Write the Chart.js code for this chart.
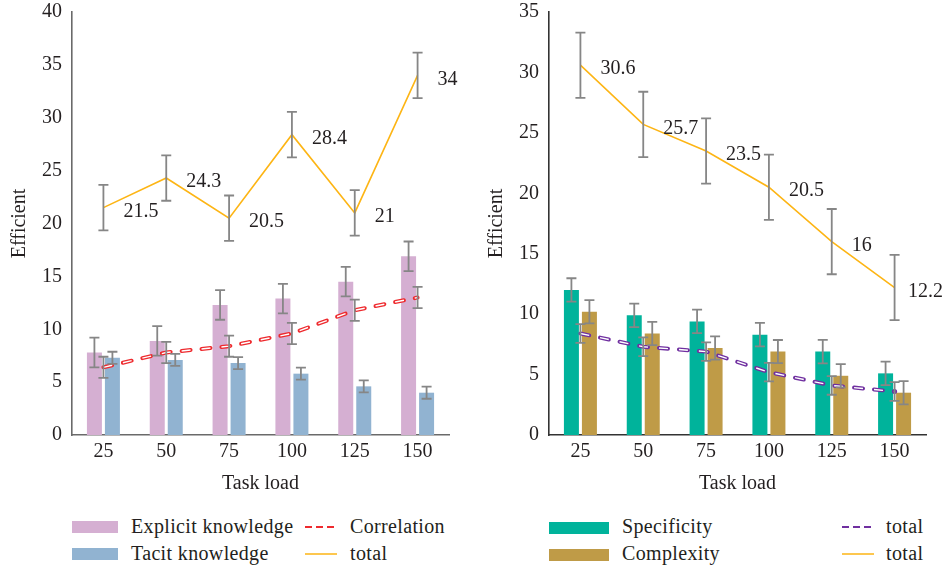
<!DOCTYPE html>
<html>
<head>
<meta charset="utf-8">
<script src="https://cdn.jsdelivr.net/npm/chart.js@4.4.1/dist/chart.umd.min.js"></script>
<style>
  html, body { margin: 0; padding: 0; background: #fff; }
  body { width: 945px; height: 568px; position: relative; overflow: hidden; font-family: "Liberation Serif", "DejaVu Serif", serif; color: #231f20; }
  .cv { position: absolute; top: 0; }
  .lg { position: absolute; font-size: 20px; letter-spacing: 0.35px; line-height: 22px; white-space: nowrap; }
  .sw { position: absolute; height: 12px; }
  .ln { position: absolute; }
</style>
</head>
<body>
<div class="cv" style="left:0;width:470px;height:500px;"><canvas id="c1"></canvas></div>
<div class="cv" style="left:477px;width:468px;height:500px;"><canvas id="c2"></canvas></div>

<!-- left legend -->
<div class="sw" style="left:72px;top:521px;width:46px;background:#D5AFD2;"></div>
<div class="lg" style="left:131px;top:515px;">Explicit knowledge</div>
<div class="sw" style="left:72px;top:548px;width:46px;background:#91B3D1;"></div>
<div class="lg" style="left:131px;top:542px;">Tacit knowledge</div>
<svg class="ln" style="left:304px;top:522px;" width="34" height="10"><line x1="1" y1="5" x2="33" y2="5" stroke="#EE2A2E" stroke-width="2" stroke-dasharray="7,4"/></svg>
<div class="lg" style="left:350px;top:515px;">Correlation</div>
<svg class="ln" style="left:304px;top:549px;" width="34" height="10"><line x1="1" y1="5" x2="33" y2="5" stroke="#FDB515" stroke-width="1.5"/></svg>
<div class="lg" style="left:350px;top:542px;">total</div>

<!-- right legend -->
<div class="sw" style="left:549px;top:522px;width:60px;background:#00B39B;"></div>
<div class="lg" style="left:622px;top:515px;">Specificity</div>
<div class="sw" style="left:549px;top:549px;width:60px;background:#BF9B47;"></div>
<div class="lg" style="left:622px;top:542px;">Complexity</div>
<svg class="ln" style="left:841px;top:522px;" width="34" height="10"><line x1="1" y1="5" x2="33" y2="5" stroke="#7030A0" stroke-width="2" stroke-dasharray="7,4"/></svg>
<div class="lg" style="left:886px;top:515px;">total</div>
<svg class="ln" style="left:841px;top:549px;" width="34" height="10"><line x1="1" y1="5" x2="33" y2="5" stroke="#FDB515" stroke-width="1.5"/></svg>
<div class="lg" style="left:886px;top:542px;">total</div>

<script>
// ---- data ----
const taskLoad = ['25', '50', '75', '100', '125', '150'];

const explicitKnowledge = [7.8, 8.9, 12.3, 12.9, 14.5, 16.9];
const explicitErr = [1.4, 1.4, 1.4, 1.4, 1.4, 1.4];
const tacitKnowledge = [7.3, 7.1, 6.8, 5.8, 4.6, 4.0];
const tacitErr = [0.57, 0.57, 0.57, 0.57, 0.57, 0.57];
const correlation = [6.4, 7.8, 8.4, 9.6, 11.8, 13.0];
const correlationErr = [1.0, 1.0, 1.0, 1.0, 1.0, 1.0];
const totalLeft = [21.5, 24.3, 20.5, 28.4, 21, 34];
const totalLeftErr = [2.15, 2.15, 2.15, 2.15, 2.15, 2.15];

const specificity = [12.0, 9.9, 9.4, 8.3, 6.9, 5.1];
const specificityErr = [0.97, 0.97, 0.97, 0.97, 0.97, 0.97];
const complexity = [10.2, 8.4, 7.2, 6.9, 4.9, 3.5];
const complexityErr = [0.96, 0.96, 0.96, 0.96, 0.96, 0.96];
const totalDashed = [8.4, 7.3, 6.9, 5.2, 4.1, 3.6];
const totalDashedErr = [0.77, 0.77, 0.77, 0.77, 0.77, 0.77];
const totalRight = [30.6, 25.7, 23.5, 20.5, 16, 12.2];
const totalRightErr = [2.7, 2.7, 2.7, 2.7, 2.7, 2.7];

const leftTicks = [0, 5, 10, 15, 20, 25, 30, 35, 40];
const rightTicks = [0, 5, 10, 15, 20, 25, 30, 35];

// ---- styling ----
const FONT = '"Liberation Serif", "DejaVu Serif", serif';
Chart.defaults.font.family = FONT;
Chart.defaults.font.size = 20;
Chart.defaults.color = '#231f20';

const errorBarPlugin = {
  id: 'errorBars',
  afterDatasetsDraw(chart) {
    const ctx = chart.ctx;
    const y = chart.scales.y;
    ctx.save();
    ctx.strokeStyle = '#868686';
    ctx.lineWidth = 1.8;
    chart.data.datasets.forEach((ds, i) => {
      if (!ds.err) return;
      const meta = chart.getDatasetMeta(i);
      meta.data.forEach((el, j) => {
        const v = ds.data[j], e = ds.err[j];
        const x = el.x;
        const y1 = y.getPixelForValue(v + e), y2 = y.getPixelForValue(v - e);
        const cw = 5;
        ctx.beginPath();
        ctx.moveTo(x, y1); ctx.lineTo(x, y2);
        ctx.moveTo(x - cw, y1); ctx.lineTo(x + cw, y1);
        ctx.moveTo(x - cw, y2); ctx.lineTo(x + cw, y2);
        ctx.stroke();
      });
    });
    // value labels
    chart.data.datasets.forEach((ds, i) => {
      if (!ds.showLabels) return;
      const meta = chart.getDatasetMeta(i);
      ctx.fillStyle = '#231f20';
      ctx.font = '20px ' + FONT;
      ctx.textAlign = 'left';
      ctx.textBaseline = 'middle';
      meta.data.forEach((el, j) => {
        const txt = String(ds.data[j]);
        const w = ctx.measureText(txt).width;
        const lx = Math.min(el.x + 20, chart.width - w - 2);
        ctx.fillText(txt, lx, el.y + 4);
      });
    });
    ctx.restore();
  }
};

function makeChart(id, cfg) {
  const dashW = 4;
  return new Chart(document.getElementById(id), {
    type: 'bar',
    data: {
      labels: taskLoad,
      datasets: [
        { label: cfg.b1Label, data: cfg.b1, err: cfg.b1Err, backgroundColor: cfg.b1Color, order: 4,
          categoryPercentage: 0.573, barPercentage: 0.833 },
        { label: cfg.b2Label, data: cfg.b2, err: cfg.b2Err, backgroundColor: cfg.b2Color, order: 5,
          categoryPercentage: 0.573, barPercentage: 0.833 },
        { type: 'line', label: cfg.dLabel, data: cfg.d, err: cfg.dErr, borderColor: cfg.dColor, borderWidth: dashW,
          borderDash: [9, 11], borderCapStyle: 'round', pointRadius: cfg.endDot ? [0,0,0,0,0,2.5] : 0,
          pointBackgroundColor: cfg.dColor, pointBorderWidth: 0, fill: false, tension: 0, order: 3 },
        { type: 'line', label: '', data: cfg.d, borderColor: '#ffffff', borderWidth: 1.4,
          borderDash: [9, 11], borderCapStyle: 'butt', pointRadius: 0, fill: false, tension: 0, order: 2 },
        { type: 'line', label: 'total', data: cfg.t, err: cfg.tErr, showLabels: true, borderColor: '#FDB515',
          borderWidth: 1.6, pointRadius: 0, fill: false, tension: 0, order: 1 }
      ]
    },
    options: {
      responsive: true,
      maintainAspectRatio: false,
      animation: false,
      layout: { padding: { top: 12, right: cfg.padRight, left: 0, bottom: 0 } },
      plugins: { legend: { display: false }, tooltip: { enabled: false } },
      scales: {
        x: {
          grid: { display: false, drawTicks: false },
          border: { display: true, color: cfg.axisColor, width: 1.6 },
          ticks: { padding: 5, color: '#231f20', font: { size: 20 } },
          title: { display: true, text: 'Task load', font: { size: 20 }, color: '#231f20', padding: { top: 0, bottom: 4 } },
          afterFit(s) { s.height = 65; s.paddingLeft = 0; s.paddingRight = 0; }
        },
        y: {
          min: 0, max: cfg.ymax,
          grid: { display: false, drawTicks: false },
          border: { display: true, color: cfg.axisColor, width: 1.6 },
          afterBuildTicks(s) { s.ticks = cfg.ticks.map(v => ({ value: v })); },
          ticks: { padding: 10, color: '#231f20', font: { size: 20 } },
          title: { display: true, text: 'Efficient', font: { size: 20 }, color: '#231f20', padding: { top: 8, bottom: 0 } },
          afterFit(s) { s.width = 72; s.paddingTop = 0; s.paddingBottom = 0; }
        }
      }
    },
    plugins: [errorBarPlugin]
  });
}

makeChart('c1', {
  b1Label: 'Explicit knowledge', b1: explicitKnowledge, b1Err: explicitErr, b1Color: '#D5AFD2',
  b2Label: 'Tacit knowledge', b2: tacitKnowledge, b2Err: tacitErr, b2Color: '#91B3D1',
  dLabel: 'Correlation', d: correlation, dErr: correlationErr, dColor: '#EE2A2E', endDot: false,
  t: totalLeft, tErr: totalLeftErr, ymax: 40, ticks: leftTicks, padRight: 21, axisColor: '#6a6a6a'
});
makeChart('c2', {
  b1Label: 'Specificity', b1: specificity, b1Err: specificityErr, b1Color: '#00B39B',
  b2Label: 'Complexity', b2: complexity, b2Err: complexityErr, b2Color: '#BF9B47',
  dLabel: 'total', d: totalDashed, dErr: totalDashedErr, dColor: '#7030A0', endDot: true,
  t: totalRight, tErr: totalRightErr, ymax: 35, ticks: rightTicks, padRight: 19, axisColor: '#333333'
});
</script>
</body>
</html>
